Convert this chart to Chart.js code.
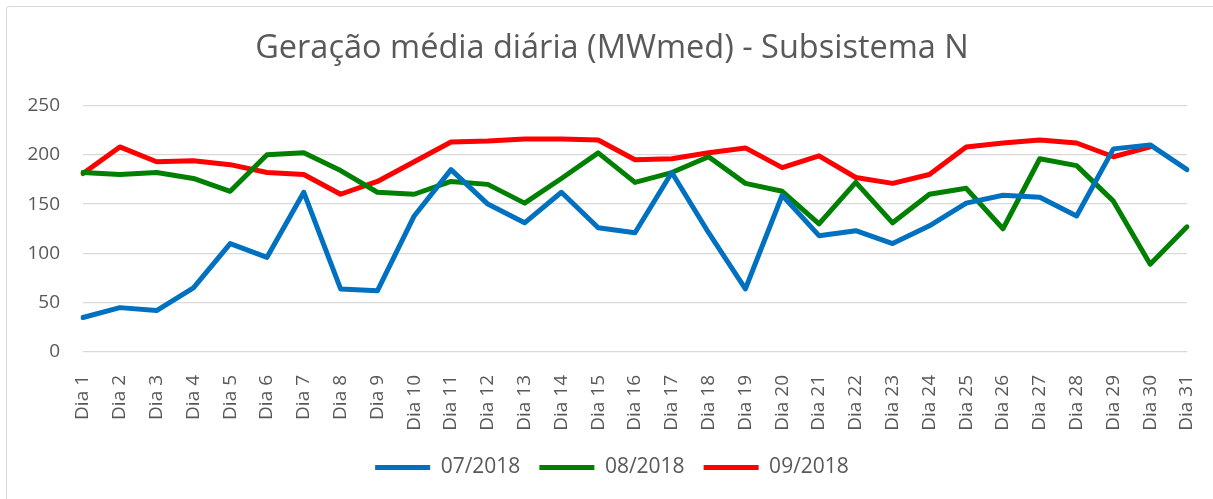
<!DOCTYPE html>
<html>
<head>
<meta charset="utf-8">
<script src="https://cdn.jsdelivr.net/npm/chart.js@4/dist/chart.umd.min.js"></script>
<style>
  html, body { margin: 0; padding: 0; background: #fff; overflow: hidden; }
  #wrap { position: relative; width: 1213px; height: 499px; }
  #frame { position: absolute; left: 6px; top: 6px; width: 1230px; height: 520px; border: 1.5px solid #d9d9d9; border-radius: 3px; }
  #chart { position: absolute; left: 0; top: 0; }
</style>
</head>
<body>
<div id="wrap">
  <div id="frame"></div>
  <canvas id="chart" width="1213" height="499"></canvas>
</div>
<script>
// Categories
const days = [];
for (let d = 1; d <= 31; d++) days.push('Dia ' + d);

// Series (MWmed)
const jul2018 = [35, 45, 42, 65, 110, 96, 162, 64, 62, 138, 185, 150, 131, 162, 126, 121, 182, 121, 64, 159,
                 118, 123, 110, 128, 151, 159, 157, 138, 206, 210, 185];
const aug2018 = [182, 180, 182, 176, 163, 200, 202, 184, 162, 160, 173, 170, 151, 176, 202, 172, 182, 198, 171, 163,
                 130, 172, 131, 160, 166, 125, 196, 189, 153, 89, 127];
const sep2018 = [181, 208, 193, 194, 190, 182, 180, 160, 173, 193, 213, 214, 216, 216, 215, 195, 196, 202, 207, 187,
                 199, 177, 171, 180, 208, 212, 215, 212, 198, 208, null];

const seriesNames = ['07/2018', '08/2018', '09/2018'];
const seriesColors = ['#0070C0', '#008000', '#FF0000'];

const yTicks = [0, 50, 100, 150, 200, 250];

const textColor = '#595959';
const fontFamily = '"Open Sans", sans-serif';

// title and legend are centred on the frame, not on the plot
const centerShift = {
  id: 'centerShift',
  afterLayout(chart) {
    for (const box of [chart.titleBlock, chart.legend]) {
      if (!box) continue;
      box.left = 37;
      box.right = 1187;
    }
  }
};

const ctx = document.getElementById('chart').getContext('2d');
new Chart(ctx, {
  type: 'line',
  data: {
    labels: days,
    datasets: [jul2018, aug2018, sep2018].map((values, i) => ({
      label: seriesNames[i],
      data: values,
      borderColor: seriesColors[i],
      backgroundColor: seriesColors[i],
      borderWidth: 5,
      pointRadius: 0,
      pointHoverRadius: 0,
      tension: 0,
      borderJoinStyle: 'round',
      borderCapStyle: 'round',
      fill: false,
      spanGaps: false
    }))
  },
  options: {
    responsive: false,
    animation: false,
    layout: { padding: { left: 0, right: 26, top: 0, bottom: 11 } },
    plugins: {
      title: {
        display: true,
        text: 'Geração média diária (MWmed) - Subsistema N',
        color: textColor,
        font: { family: fontFamily, size: 32.5, weight: 'normal' },
        padding: { top: 29, bottom: 37.5 }
      },
      legend: {
        position: 'bottom',
        labels: {
          color: textColor,
          font: { family: fontFamily, size: 21 },
          usePointStyle: true,
          pointStyle: 'line',
          pointStyleWidth: 55,
          padding: 19
        }
      },
      tooltip: { enabled: false }
    },
    scales: {
      x: {
        offset: false,
        grid: { display: false },
        border: { display: false },
        ticks: {
          color: textColor,
          font: { family: fontFamily, size: 19 },
          minRotation: 90,
          maxRotation: 90,
          autoSkip: false,
          padding: 15
        },
        afterFit: (scale) => {
          scale.height = 86;
          scale.paddingLeft = 0;
          scale.paddingRight = 0;
        }
      },
      y: {
        min: 0,
        max: 250,
        grid: { color: '#d9d9d9', lineWidth: 1.3, drawTicks: false },
        border: { display: false },
        afterBuildTicks: (scale) => { scale.ticks = yTicks.map(v => ({ value: v })); },
        ticks: {
          color: textColor,
          font: { family: fontFamily, size: 19 },
          padding: 23
        },
        afterFit: (scale) => { scale.width = 83; }
      }
    }
  },
  plugins: [centerShift]
});
</script>
</body>
</html>
